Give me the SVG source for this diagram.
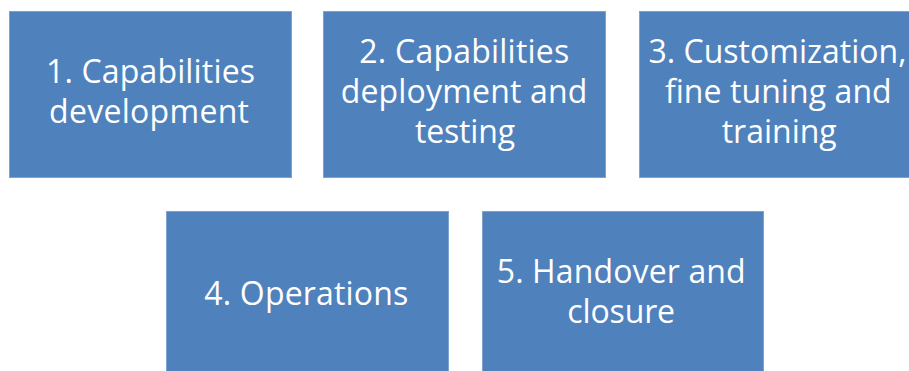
<svg xmlns="http://www.w3.org/2000/svg" width="909" height="371" viewBox="0 0 909 371">
<style>
rect.box{fill:#4F81BD;stroke:#7EA1CF;stroke-width:1}
text{font-family:"Open Sans","Noto Sans","Liberation Sans",sans-serif;font-size:32px;fill:#FFFFFF;text-anchor:middle}
</style>
<rect width="909" height="371" fill="#FFFFFF"/>
<g id="node1">
<rect class="box" x="9.5" y="11.5" width="282" height="166"/>
<text x="150.5" y="83" textLength="209">1. Capabilities</text>
<text x="149" y="123" textLength="200">development</text>
</g>
<g id="node2">
<rect class="box" x="323.5" y="11.5" width="282" height="166"/>
<text x="464.3" y="63.3" textLength="210">2. Capabilities</text>
<text x="464" y="103.3" textLength="246.7">deployment and</text>
<text x="465" y="143.3" textLength="100">testing</text>
</g>
<g id="node3">
<rect class="box" x="639.5" y="11.5" width="282" height="166"/>
<text x="777.5" y="63.3" textLength="258">3. Customization,</text>
<text x="778.3" y="103.3" textLength="226.7">fine tuning and</text>
<text x="779.2" y="143.3" textLength="115">training</text>
</g>
<g id="node4">
<rect class="box" x="166.5" y="211.5" width="282" height="166"/>
<text x="306.3" y="305" textLength="204">4. Operations</text>
</g>
<g id="node5">
<rect class="box" x="482.5" y="211.5" width="281" height="166"/>
<text x="621.2" y="283.3" textLength="249">5. Handover and</text>
<text x="621.2" y="323.3" textLength="107.7">closure</text>
</g>
<g id="connectors"/>
</svg>
